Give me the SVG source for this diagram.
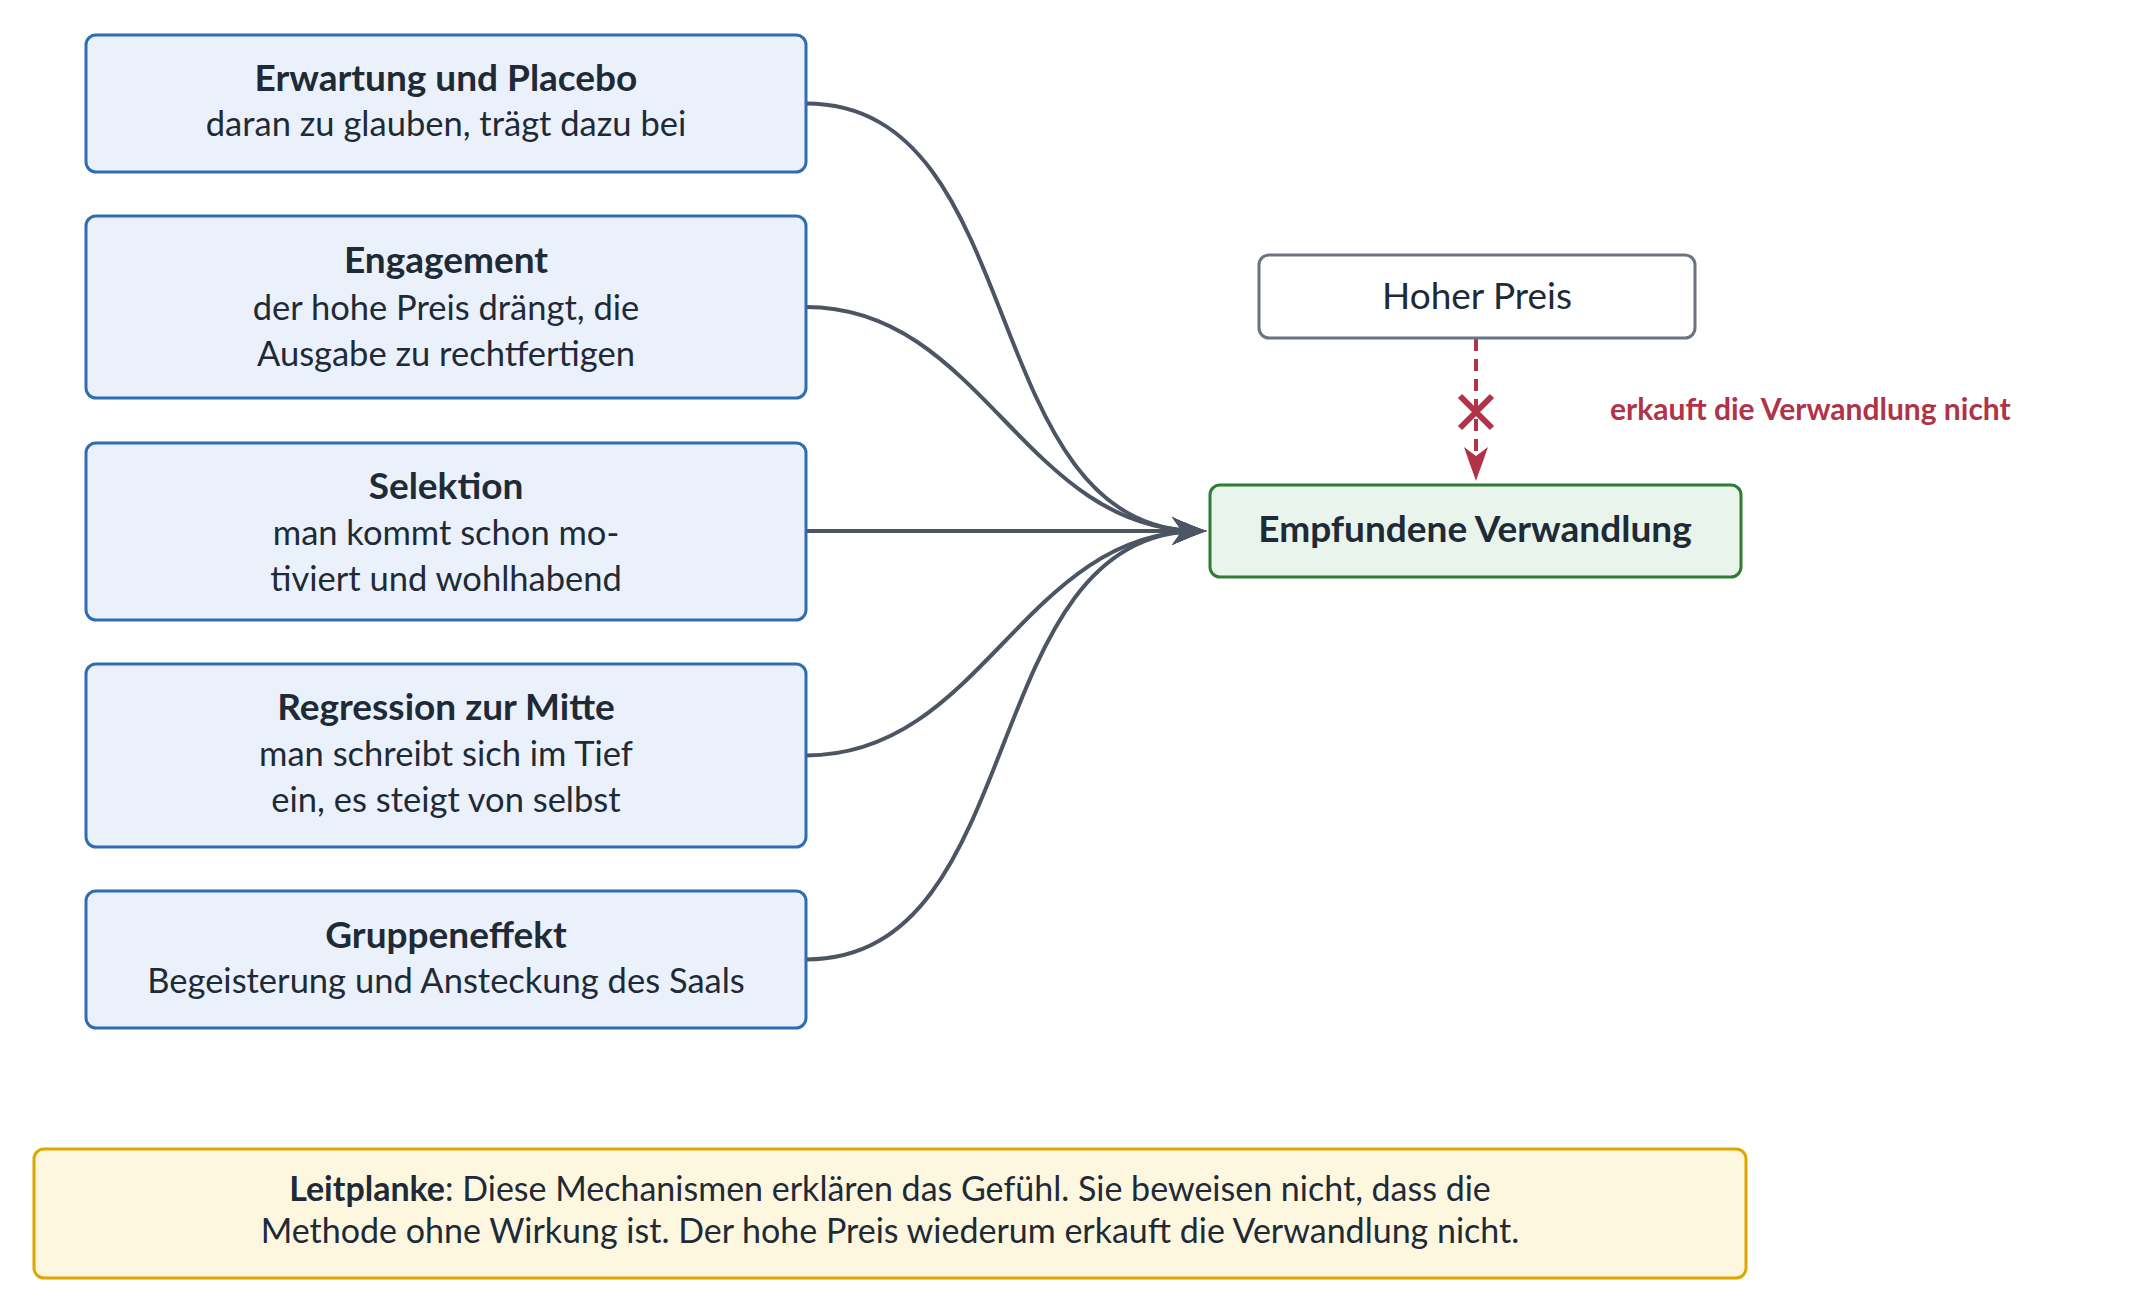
<svg xmlns="http://www.w3.org/2000/svg" width="2129" height="1313" viewBox="0 0 2129 1313">
<style>
text{font-family:Lato,"Liberation Sans",sans-serif;fill:#1f2a37;text-anchor:middle}
.t{font-weight:bold;font-size:37px}
.s{font-size:34.5px}
.cause{fill:#eaf1fb;stroke:#2f6db3;stroke-width:3}
.out{fill:#e9f5ec;stroke:#2e7d32;stroke-width:3}
.price{fill:#ffffff;stroke:#6b7280;stroke-width:3}
.note{fill:#fdf7e0;stroke:#dea600;stroke-width:3}
.conn{fill:none;stroke:#4b5563;stroke-width:4}
.neg{fill:none;stroke:#b03347;stroke-width:4;stroke-dasharray:12 8}
</style>
<defs>
<marker id="ah" markerUnits="userSpaceOnUse" markerWidth="50" markerHeight="40" refX="35" refY="20" orient="auto" overflow="visible">
<path d="M42 20 C32 17 18 11 7 6 L17 20 L7 34 C18 29 32 23 42 20 Z" fill="#4b5563"/>
</marker>
<marker id="ahr" markerUnits="userSpaceOnUse" markerWidth="50" markerHeight="40" refX="35" refY="20" orient="auto" overflow="visible">
<path d="M42 20 C33 17 20 12 8 8 L17 20 L8 32 C20 28 33 23 42 20 Z" fill="#b03347"/>
</marker>
</defs>
<g id="connectors">
<path class="conn" d="M806 103.5 C1033 103.5 973 531 1200 531" marker-end="url(#ah)"/>
<path class="conn" d="M806 307 C983 307 1023 531 1200 531" marker-end="url(#ah)"/>
<path class="conn" d="M806 531 L1200 531" marker-end="url(#ah)"/>
<path class="conn" d="M806 755.5 C983 755.5 1023 531 1200 531" marker-end="url(#ah)"/>
<path class="conn" d="M806 959.5 C1033 959.5 973 531 1200 531" marker-end="url(#ah)"/>
<path class="neg" d="M1476 339 L1476 474" marker-end="url(#ahr)"/>
<path d="M1460 396 L1492 428 M1492 396 L1460 428" stroke="#b03347" stroke-width="6" fill="none"/>
<text x="1610" y="420" style="font-size:30px;font-weight:bold;fill:#b03347;text-anchor:start">erkauft die Verwandlung nicht</text>
</g>
<g id="n1">
<rect class="cause" x="86" y="35" width="720" height="137" rx="10"/>
<text class="t" x="446" y="91">Erwartung und Placebo</text>
<text class="s" x="446" y="136">daran zu glauben, trägt dazu bei</text>
</g>
<g id="n2">
<rect class="cause" x="86" y="216" width="720" height="182" rx="10"/>
<text class="t" x="446" y="273">Engagement</text>
<text class="s" x="446" y="320">der hohe Preis drängt, die</text>
<text class="s" x="446" y="366">Ausgabe zu rechtfertigen</text>
</g>
<g id="n3">
<rect class="cause" x="86" y="443" width="720" height="177" rx="10"/>
<text class="t" x="446" y="499">Selektion</text>
<text class="s" x="446" y="545">man kommt schon mo-</text>
<text class="s" x="446" y="591">tiviert und wohlhabend</text>
</g>
<g id="n4">
<rect class="cause" x="86" y="664" width="720" height="183" rx="10"/>
<text class="t" x="446" y="720">Regression zur Mitte</text>
<text class="s" x="446" y="766">man schreibt sich im Tief</text>
<text class="s" x="446" y="812">ein, es steigt von selbst</text>
</g>
<g id="n5">
<rect class="cause" x="86" y="891" width="720" height="137" rx="10"/>
<text class="t" x="446" y="948">Gruppeneffekt</text>
<text class="s" x="446" y="993">Begeisterung und Ansteckung des Saals</text>
</g>
<g id="price">
<rect class="price" x="1259" y="255" width="436" height="83" rx="10"/>
<text x="1477" y="309" style="font-size:37px">Hoher Preis</text>
</g>
<g id="outcome">
<rect class="out" x="1210" y="485" width="531" height="92" rx="10"/>
<text class="t" x="1475" y="542">Empfundene Verwandlung</text>
</g>
<g id="note">
<rect class="note" x="34" y="1149" width="1712" height="129" rx="10"/>
<text x="890" y="1201" style="font-size:34px"><tspan font-weight="bold">Leitplanke</tspan>: Diese Mechanismen erklären das Gefühl. Sie beweisen nicht, dass die</text>
<text x="890" y="1243" style="font-size:34px">Methode ohne Wirkung ist. Der hohe Preis wiederum erkauft die Verwandlung nicht.</text>
</g>
</svg>
